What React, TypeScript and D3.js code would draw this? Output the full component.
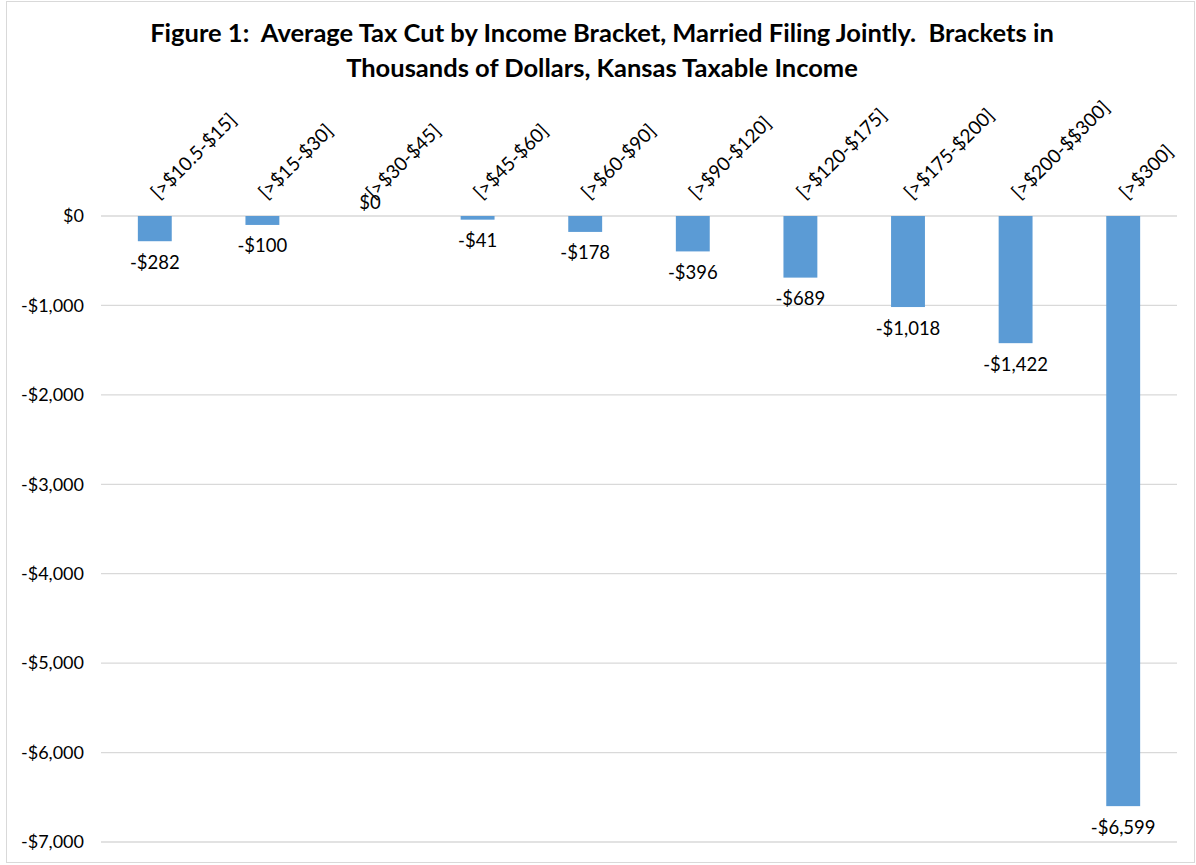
import React from "react";
import * as d3 from "d3";

// brackets in thousands of dollars, Kansas taxable income
const brackets = [
  "[>$10.5-$15]",
  "[>$15-$30]",
  "[>$30-$45]",
  "[>$45-$60]",
  "[>$60-$90]",
  "[>$90-$120]",
  "[>$120-$175]",
  "[>$175-$200]",
  "[>$200-$$300]",
  "[>$300]",
];
// average tax cut per bracket (dollars)
const taxCut = [-282, -100, 0, -41, -178, -396, -689, -1018, -1422, -6599];
const yTicks = [0, -1000, -2000, -3000, -4000, -5000, -6000, -7000];
const titleLines = [
  "Figure 1:  Average Tax Cut by Income Bracket, Married Filing Jointly.  Brackets in",
  "Thousands of Dollars, Kansas Taxable Income",
];

const W = 1196;
const H = 865;
const FONT = "Lato, Carlito, Calibri, 'Liberation Sans', sans-serif";

const App = () => {
  const plot = { left: 101, right: 1177, top: 216, bottom: 842 };

  const x = d3.scaleBand<string>().domain(brackets).range([plot.left, plot.right]).paddingInner(0.685).paddingOuter(0.3425);
  const y = d3.scaleLinear().domain([0, -7000]).range([plot.top, plot.bottom]);
  const fmt = (v: number) => (v < 0 ? "-$" : "$") + d3.format(",")(Math.abs(v));

  return (
    <svg width={W} height={H} style={{ position: "absolute", left: 0, top: 0 }} fontFamily={FONT}>
      <rect x={0} y={0} width={W} height={H} fill="#fff" />
      <rect x={6.5} y={1.5} width={1188} height={861} fill="none" stroke="#d9d9d9" strokeWidth={1} />

      {/* title */}
      {titleLines.map((t, i) => (
        <text
          key={i}
          x={602}
          y={42 + i * 35}
          textAnchor="middle"
          fontSize={25.5}
          fontWeight="bold"
          fill="#000"
          style={{ whiteSpace: "pre" }}
        >
          {t}
        </text>
      ))}

      {/* gridlines + y labels */}
      {yTicks.map((t) => (
        <g key={t}>
          <line x1={plot.left} x2={plot.right} y1={y(t)} y2={y(t)} stroke="#d9d9d9" strokeWidth={1.3} />
          <text x={84} y={y(t)} dy="0.35em" textAnchor="end" fontSize={18} fill="#000">
            {fmt(t)}
          </text>
        </g>
      ))}

      {/* bars */}
      {brackets.map((b, i) => (
        <rect
          key={b}
          x={x(b)}
          y={y(0)}
          width={x.bandwidth()}
          height={y(taxCut[i]) - y(0)}
          fill="#5b9bd5"
        />
      ))}

      {/* category labels, rotated, above the plot */}
      {brackets.map((b) => {
        const cx = (x(b) ?? 0) + x.bandwidth() / 2 + 4;
        return (
          <text key={b} transform={`translate(${cx},200) rotate(-45)`} fontSize={19} fill="#000">
            {b}
          </text>
        );
      })}

      {/* data labels */}
      {brackets.map((b, i) => {
        const v = taxCut[i];
        const cx = (x(b) ?? 0) + x.bandwidth() / 2;
        const ly = v === 0 ? y(0) - 13 : y(v) + 21;
        return (
          <text key={b} x={cx} y={ly} dy="0.35em" textAnchor="middle" fontSize={18.5} fill="#000">
            {fmt(v)}
          </text>
        );
      })}
    </svg>
  );
};

export default App;
